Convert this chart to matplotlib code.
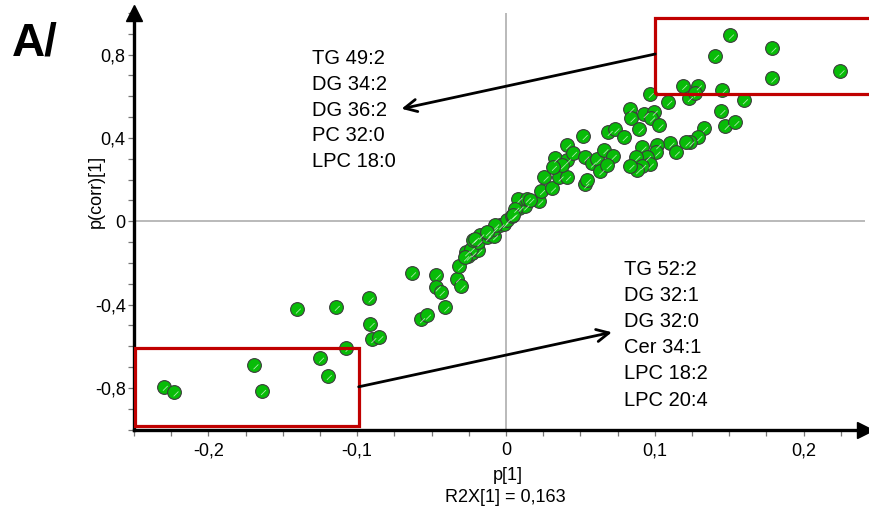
import matplotlib
matplotlib.use("Agg")
import matplotlib.pyplot as plt
from matplotlib.patches import Rectangle
from matplotlib.path import Path
from matplotlib.ticker import FixedLocator, MultipleLocator, FuncFormatter

plt.rcParams['font.family'] = ['Liberation Sans', 'DejaVu Sans']

# ---- data: p[1] (loading) and p(corr)[1] for each variable ----
p1 = [
    -0.2301, -0.2229, -0.1692, -0.1641, -0.1407, -0.1145, -0.1251, -0.1199, -0.1073,
    -0.0918, -0.0911, -0.0900, -0.0853, -0.0633, -0.0572, -0.0532, -0.0467, -0.0467,
    -0.0440, -0.0409, -0.0330, -0.0301, -0.0316, -0.0258, -0.0227, -0.0187,
    -0.0269, -0.0238, -0.0187, -0.0224, -0.0175, -0.0130, -0.0112, -0.0081, -0.0081,
    -0.0040, -0.0013, 0.0005, 0.0038, 0.0090, 0.0128, 0.0083, 0.0139, 0.0222, 0.0234,
    0.0258, 0.0308, 0.0359, 0.0409, 0.0330, 0.0409, 0.0375, 0.0314, 0.0409, 0.0449,
    0.0521, 0.0532, 0.0543, 0.0532, 0.0577, 0.0611, 0.0633, 0.0660, 0.0716, 0.0682,
    0.0689, 0.0734, 0.0790, 0.0835, 0.0842, 0.0931, 0.0992, 0.0974, 0.1030, 0.0896,
    0.0965, 0.1089, 0.1190, 0.1288, 0.1228, 0.1268, 0.1455, 0.1598, 0.1446, 0.1475,
    0.1540, 0.1329, 0.1291, 0.1239, 0.1212, 0.1104, 0.1140, 0.1015, 0.1010, 0.0916,
    0.0947, 0.0875, 0.0965, 0.0914, 0.0880, 0.0835,
    0.1504, 0.1403, 0.1789, 0.1789, 0.2247,
    0.0061, 0.0049, -0.0074, -0.0130, -0.0209, -0.0276, 0.0162,
]
pcorr = [
    -0.794, -0.821, -0.691, -0.814, -0.423, -0.410, -0.659, -0.742, -0.607,
    -0.370, -0.492, -0.565, -0.556, -0.249, -0.469, -0.452, -0.259, -0.317,
    -0.339, -0.414, -0.275, -0.312, -0.217, -0.169, -0.153, -0.140,
    -0.148, -0.132, -0.100, -0.092, -0.067, -0.076, -0.059, -0.071, -0.035,
    -0.019, -0.011, 0.005, 0.024, 0.066, 0.072, 0.109, 0.109, 0.096, 0.146,
    0.211, 0.158, 0.211, 0.213, 0.302, 0.294, 0.270, 0.262, 0.366, 0.329,
    0.410, 0.177, 0.198, 0.307, 0.278, 0.297, 0.241, 0.342, 0.315, 0.270,
    0.430, 0.442, 0.405, 0.540, 0.495, 0.516, 0.527, 0.495, 0.461, 0.442,
    0.612, 0.575, 0.651, 0.649, 0.593, 0.615, 0.630, 0.582, 0.530, 0.459,
    0.477, 0.448, 0.405, 0.379, 0.379, 0.374, 0.331, 0.366, 0.331, 0.355,
    0.310, 0.310, 0.273, 0.267, 0.246, 0.267,
    0.893, 0.795, 0.830, 0.686, 0.721,
    0.061, 0.029, -0.019, -0.052, -0.083, -0.172, 0.104,
]

x_major = [-0.2, -0.1, 0.0, 0.1, 0.2]
y_major = [-0.8, -0.4, 0.0, 0.4, 0.8]

upper_labels = ["TG 49:2", "DG 34:2", "DG 36:2", "PC 32:0", "LPC 18:0"]
lower_labels = ["TG 52:2", "DG 32:1", "DG 32:0", "Cer 34:1", "LPC 18:2", "LPC 20:4"]

W, H = 869, 509
fig = plt.figure(figsize=(W / 100, H / 100), dpi=100)
ax = fig.add_axes([134 / W, 1 - 429.5 / H, (865 - 134) / W, (429.5 - 13) / H])
ax.set_xlim(-0.25, 0.2413)
ax.set_ylim(-1.0, 1.0)

# zero lines
ax.axvline(0, color='#b4b4b4', lw=1.3, zorder=1)
ax.axhline(0, color='#b4b4b4', lw=1.3, zorder=1)

# points
ax.scatter(p1, pcorr, s=98, facecolor='#08bc08', edgecolor='#3c3c3c',
           linewidths=0.8, zorder=3)
stroke = Path([(-1, -1), (1, 1), (-0.1, -0.6), (0.6, 0.1)],
              [Path.MOVETO, Path.MOVETO, Path.MOVETO, Path.LINETO])
ax.scatter(p1, pcorr, s=98, marker=stroke, facecolor='none',
           edgecolor='#f0fff0', linewidths=0.6, alpha=0.7, zorder=4)

# red boxes
ax.add_patch(Rectangle((-0.2494, -0.983), 0.1504, 0.374, fill=False,
                       edgecolor='#c00000', lw=2.3, zorder=5))
ax.add_patch(Rectangle((0.1003, 0.612), 0.17, 0.365, fill=False,
                       edgecolor='#c00000', lw=2.3, zorder=5, clip_on=False))

# arrows
ax.annotate("", xy=(-0.0702, 0.540), xytext=(0.1003, 0.803),
            arrowprops=dict(arrowstyle='->', lw=2.0, color='black',
                            mutation_scale=22, shrinkA=0, shrinkB=0), zorder=6)
ax.annotate("", xy=(0.0712, -0.533), xytext=(-0.0990, -0.795),
            arrowprops=dict(arrowstyle='->', lw=2.0, color='black',
                            mutation_scale=22, shrinkA=0, shrinkB=0), zorder=6)

# annotation text blocks
for i, t in enumerate(upper_labels):
    fig.text(311.5 / W, 1 - (64.3 + i * 25.7) / H, t, fontsize=14.5,
             va='baseline', ha='left')
for i, t in enumerate(lower_labels):
    fig.text(624.3 / W, 1 - (275.0 + i * 26.1) / H, t, fontsize=14.5,
             va='baseline', ha='left')

# spines
for s in ['top', 'right']:
    ax.spines[s].set_visible(False)
for s in ['left', 'bottom']:
    ax.spines[s].set_linewidth(2.4)
    ax.spines[s].set_color('black')
ax.plot(0, 1, marker='^', ms=11, color='black', transform=ax.transAxes,
        clip_on=False, zorder=7)
ax.plot(1, 0, marker='>', ms=11, color='black', transform=ax.transAxes,
        clip_on=False, zorder=7)

# ticks
comma = FuncFormatter(lambda v, pos: ('%g' % round(v, 3)).replace('.', ','))
ax.xaxis.set_major_locator(FixedLocator(x_major))
ax.yaxis.set_major_locator(FixedLocator(y_major))
ax.xaxis.set_minor_locator(MultipleLocator(0.025))
ax.yaxis.set_minor_locator(MultipleLocator(0.1))
ax.xaxis.set_major_formatter(comma)
ax.yaxis.set_major_formatter(comma)
ax.tick_params(which='both', direction='out', length=4, width=0.9,
               color='#777777', labelsize=13, labelcolor='black')
ax.tick_params(axis='x', pad=5)
ax.tick_params(axis='y', pad=2)

fig.text(508 / W, 1 - 475 / H, "p[1]", fontsize=13, ha='center', va='center')
fig.text(505 / W, 1 - 497 / H, "R2X[1] = 0,163", fontsize=13, ha='center', va='center')
fig.text(96 / W, 1 - 191 / H, "p(corr)[1]", fontsize=13, rotation=90,
         ha='center', va='center')
fig.text(12 / W, 1 - 56 / H, "A/", fontsize=33, fontweight='bold',
         ha='left', va='baseline')

fig.savefig("out.png", dpi=100)
